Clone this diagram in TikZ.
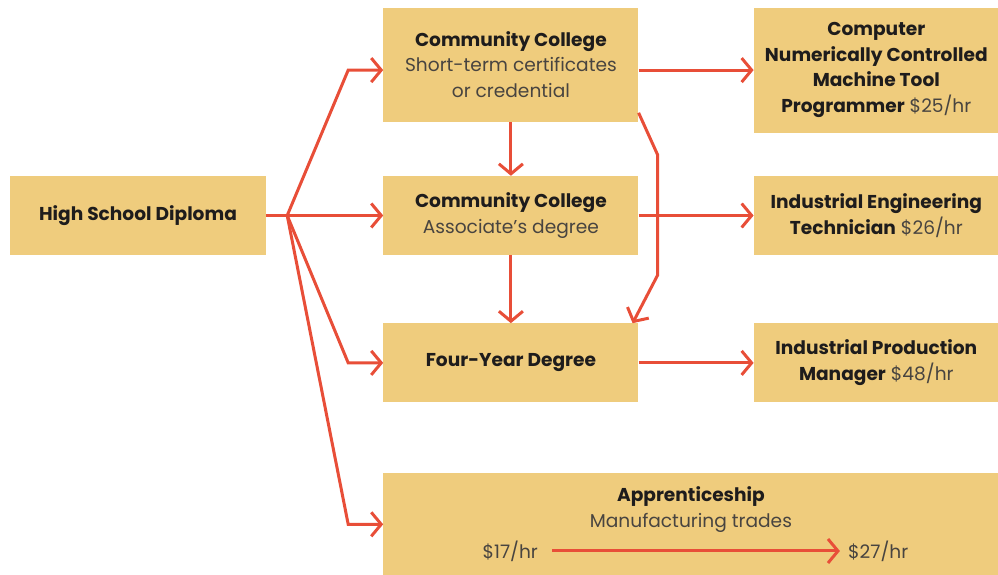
\documentclass[tikz,border=0pt]{standalone}
\usepackage{fontspec}
\setmainfont{Poppins}
\usetikzlibrary{arrows.meta, positioning, calc}
\definecolor{boxfill}{RGB}{239,204,125}
\definecolor{pathred}{RGB}{232,78,56}
\definecolor{textdark}{RGB}{30,28,28}
\definecolor{textgrey}{RGB}{72,68,64}

\begin{document}
\begin{tikzpicture}[x=1pt, y=1pt, >={Straight Barb[length=10pt,width=24pt]},
  box node/.style={rectangle, fill=boxfill, text=textdark, align=center,
    inner sep=0pt, font=\fontsize{18.6}{25.7}\selectfont},
  step node/.style={box node, minimum width=255pt, minimum height=79pt},
  job node/.style={box node, minimum width=245pt, minimum height=79pt},
  plain node/.style={inner sep=0pt, text=textgrey, align=center,
    font=\fontsize{18.6}{25.7}\selectfont},
  route/.style={->, draw=pathred, line width=3pt}]
  \useasboundingbox (0,0) rectangle (998,575);
  \node[step node, minimum width=256pt] (hs) at (138,359.5) {\textbf{High School Diploma}};
  \node[step node, right=117pt of hs] (cc2) {\textbf{Community College}\\{\color{textgrey}Associate's degree}};
  \node[step node, minimum height=114pt, above=54pt of cc2] (cc1) {\textbf{Community College}\\{\color{textgrey}Short-term certificates}\\{\color{textgrey}or credential}};
  \node[step node, below=68pt of cc2] (fy) {\textbf{Four-Year Degree}};
  \node[box node, minimum width=615pt, minimum height=103pt, below=70pt of fy.south west, anchor=north west] (ap) {};
  \node[job node, minimum height=125pt, right=115pt of cc1.north east, anchor=north west] (cnc) {\textbf{Computer}\\\textbf{Numerically Controlled}\\\textbf{Machine Tool}\\\textbf{Programmer} {\color{textgrey}\$25/hr}};
  \node[job node, right=115pt of cc2] (iet) {\textbf{Industrial Engineering}\\\textbf{Technician} {\color{textgrey}\$26/hr}};
  \node[job node, right=115pt of fy] (ipm) {\textbf{Industrial Production}\\\textbf{Manager} {\color{textgrey}\$48/hr}};
  % apprenticeship contents
  \node[plain node, below=14pt of ap.north] (apname) {{\color{textdark}\textbf{Apprenticeship}}\\Manufacturing trades};
  \node[plain node] (w17) at ($(ap.south west)+(127,25)$) {\$17/hr};
  \node[plain node] (w27) at ($(ap.south west)+(495,25)$) {\$27/hr};
  \draw[route, shorten <=14pt, shorten >=8pt] (w17.east) -- (w27.west);
  % from the diploma
  \coordinate[right=21pt of hs] (fork);
  \draw[route, -] (hs.east) -- (fork);
  \draw[route] (fork) -- ($(cc1.west |- cnc.west)+(-35,0)$) -- (cc1.west |- cnc.west);
  \draw[route] (fork) -- (cc2.west);
  \draw[route] (fork) -- ($(fy.west)+(-35,0)$) -- (fy.west);
  \draw[route] (fork) -- ($(ap.west)+(-35,0)$) -- (ap.west);
  % between the steps
  \draw[route] (cc1.south) -- (cc2.north);
  \draw[route] (cc2.south) -- (fy.north);
  \draw[route] ($(cc1.south east)+(0,9)$) -- ($(cc1.south east)+(19,-33)$)
    -- ($(fy.north east)+(19,48)$) -- ($(fy.north east)+(-6,0)$);
  % to the jobs
  \draw[route] (cc1.east |- cnc.west) -- (cnc.west);
  \draw[route] (cc2.east) -- (iet.west);
  \draw[route] (fy.east) -- (ipm.west);
\end{tikzpicture}
\end{document}
